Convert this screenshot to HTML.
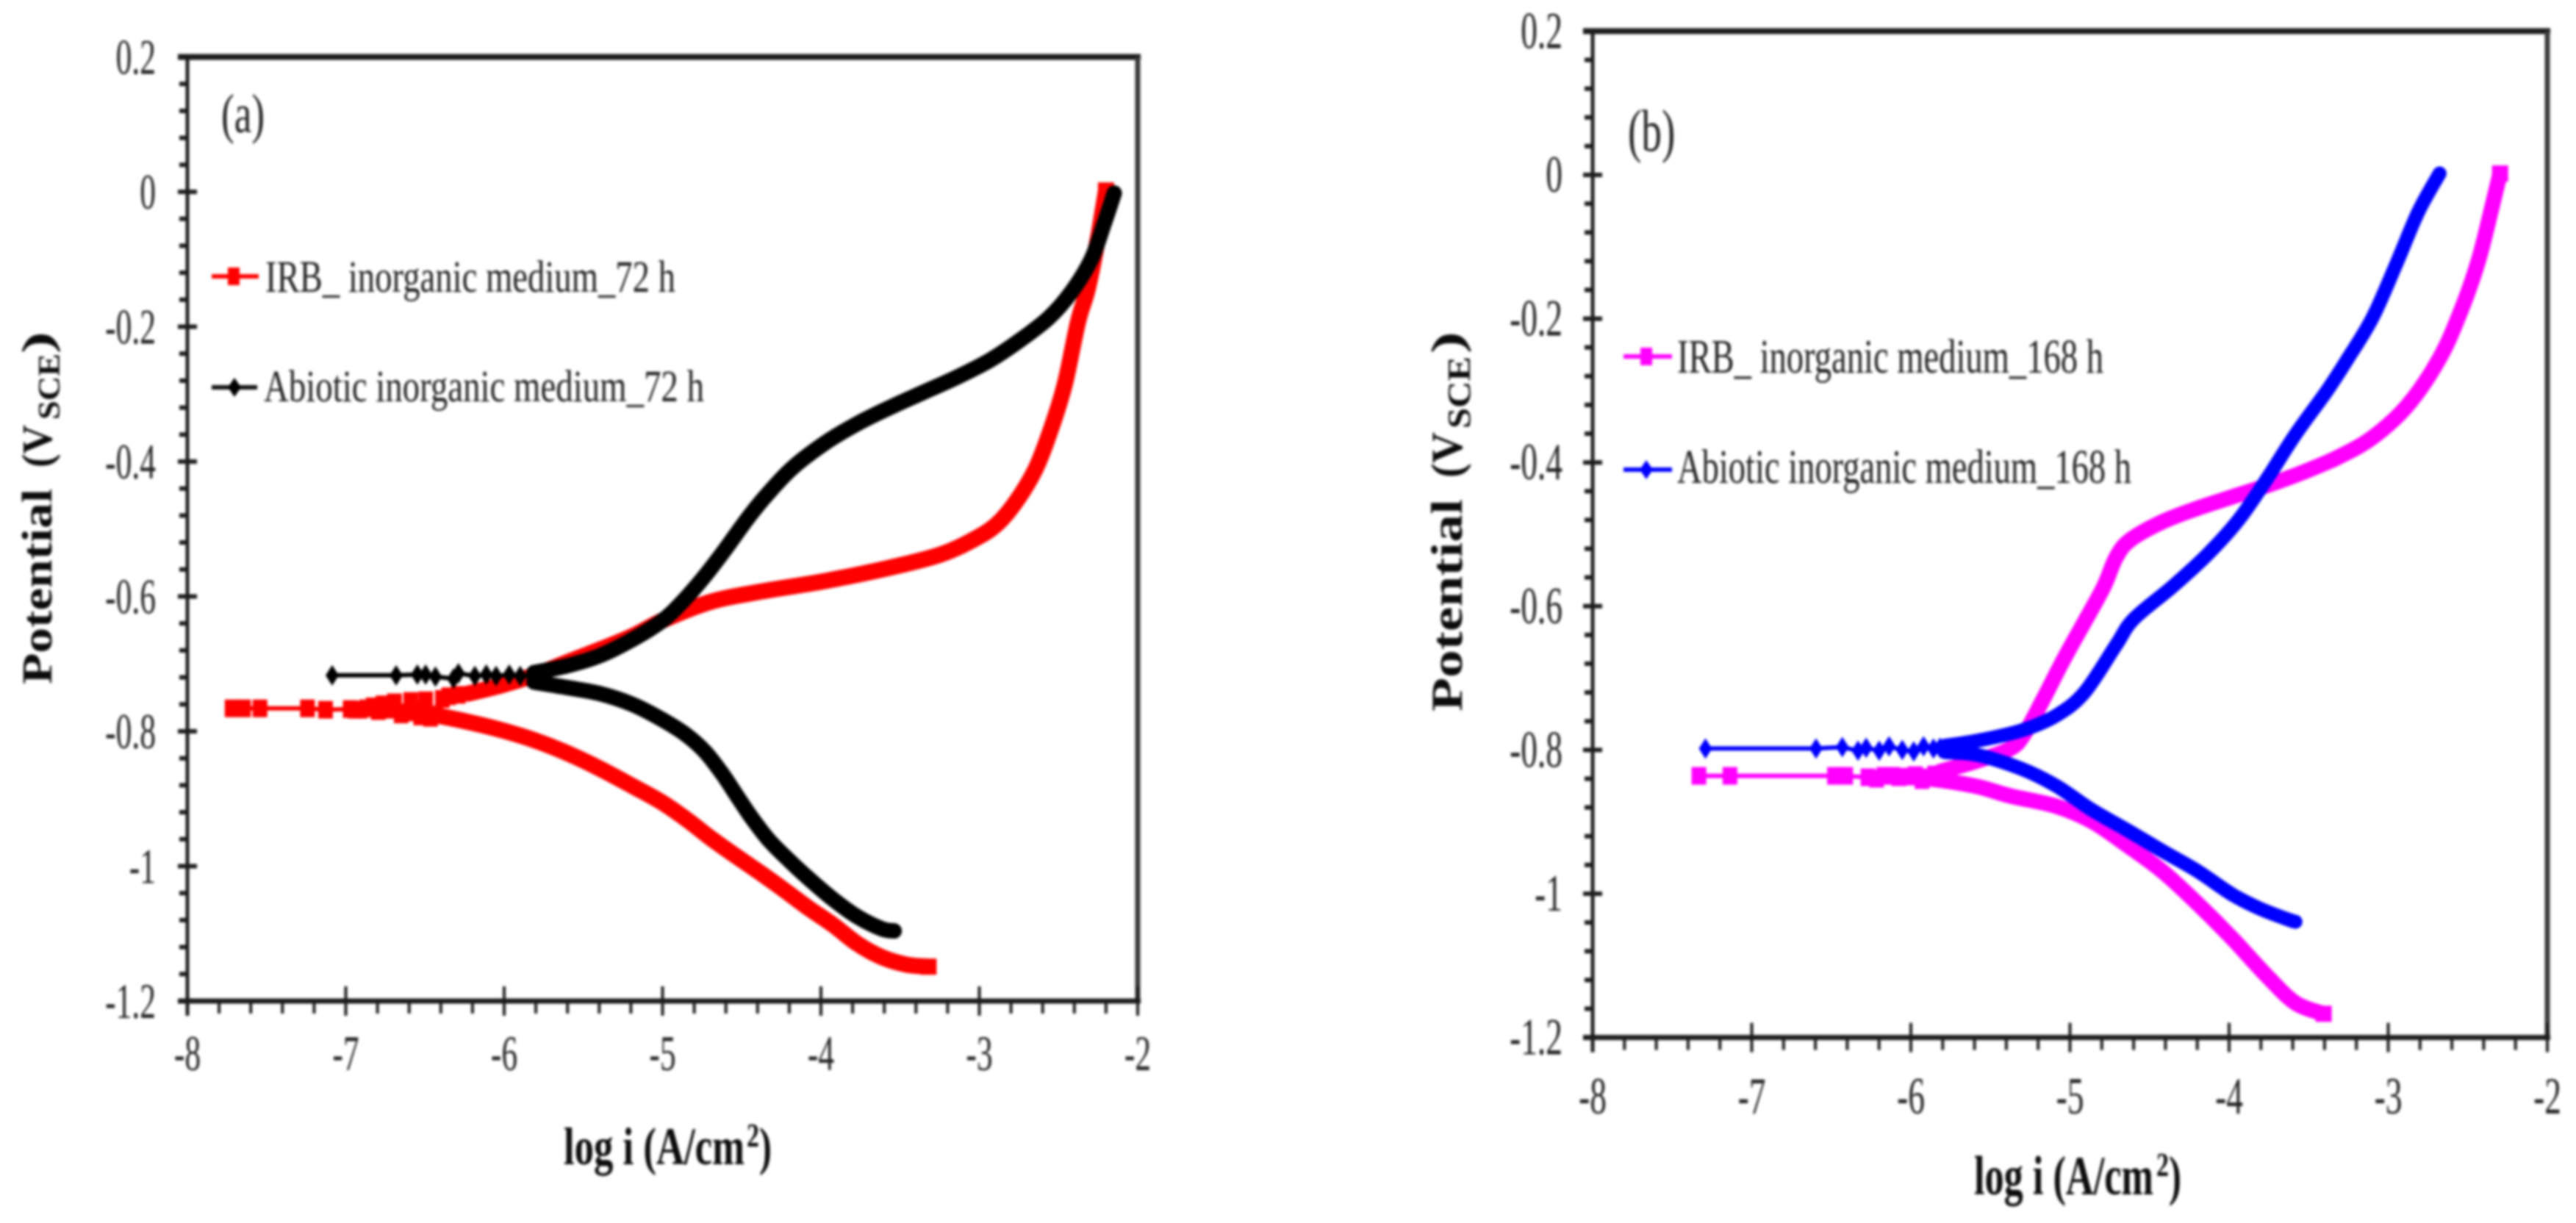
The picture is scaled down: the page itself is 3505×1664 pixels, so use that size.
<!DOCTYPE html>
<html lang="en">
<head>
<meta charset="utf-8">
<title>Polarization curves, panels a and b</title>
<style>
html,body{margin:0;padding:0;background:#fff}
svg{display:block;filter:blur(1.8px)}
text{font-family:"Liberation Serif","Times New Roman",serif;fill:#222}
.t{font-weight:700;fill:#0c0c0c}
</style>
</head>
<body>
<svg id="chart" xmlns="http://www.w3.org/2000/svg" width="3505" height="1664" viewBox="0 0 3505 1664">
  <rect x="0" y="0" width="3505" height="1664" fill="#fff"/>

  <g id="panelA"></g>
  <g id="panelB"></g>

  <!-- Panel a text -->
  <text transform="translate(301,180) scale(.71,1)" font-size="75">(a)</text>
  <text class="t" transform="translate(70,931) rotate(-90)" font-size="58" textLength="266" lengthAdjust="spacingAndGlyphs">Potential</text>
  <text class="t" transform="translate(70,636) rotate(-90)" font-size="58" textLength="58" lengthAdjust="spacingAndGlyphs">(V</text>
  <text class="t" transform="translate(81,571) rotate(-90)" font-size="42" textLength="90" lengthAdjust="spacingAndGlyphs">SCE</text>
  <text class="t" transform="translate(70,481) rotate(-90)" font-size="58" textLength="30" lengthAdjust="spacingAndGlyphs">)</text>
  <text class="t" x="767" y="1584" font-size="72" textLength="246" lengthAdjust="spacingAndGlyphs">log i (A/cm</text>
  <text class="t" x="1016" y="1560" font-size="46" textLength="17" lengthAdjust="spacingAndGlyphs">2</text>
  <text class="t" x="1033" y="1584" font-size="72" textLength="17" lengthAdjust="spacingAndGlyphs">)</text>

  <g>
    <line x1="288" y1="376" x2="352" y2="376" stroke="#ff0000" stroke-width="6"/>
    <rect x="310" y="364" width="16" height="24" fill="#ff0000"/>
    <text x="361" y="397" font-size="61" textLength="558" lengthAdjust="spacingAndGlyphs">IRB_ inorganic medium_72 h</text>
    <line x1="288" y1="527" x2="350" y2="527" stroke="#111" stroke-width="6"/>
    <polygon points="319,514 328,527 319,540 310,527" fill="#000"/>
    <text x="359" y="546" font-size="61" textLength="599" lengthAdjust="spacingAndGlyphs">Abiotic inorganic medium_72 h</text>
  </g>

  <!-- Panel b text -->
  <text transform="translate(2215,205) scale(.69,1)" font-size="80">(b)</text>
  <text class="t" transform="translate(1989,968) rotate(-90)" font-size="60" textLength="289" lengthAdjust="spacingAndGlyphs">Potential</text>
  <text class="t" transform="translate(1989,650) rotate(-90)" font-size="60" textLength="62" lengthAdjust="spacingAndGlyphs">(V</text>
  <text class="t" transform="translate(2000,583) rotate(-90)" font-size="44" textLength="98" lengthAdjust="spacingAndGlyphs">SCE</text>
  <text class="t" transform="translate(1989,481) rotate(-90)" font-size="60" textLength="30" lengthAdjust="spacingAndGlyphs">)</text>
  <text class="t" x="2686" y="1625" font-size="75" textLength="244" lengthAdjust="spacingAndGlyphs">log i (A/cm</text>
  <text class="t" x="2934" y="1600" font-size="46" textLength="17" lengthAdjust="spacingAndGlyphs">2</text>
  <text class="t" x="2951" y="1625" font-size="75" textLength="17" lengthAdjust="spacingAndGlyphs">)</text>

  <g>
    <line x1="2209" y1="485" x2="2275" y2="485" stroke="#ff00ff" stroke-width="6"/>
    <rect x="2232" y="473" width="16" height="24" fill="#ff00ff"/>
    <text x="2282" y="507" font-size="66" textLength="580" lengthAdjust="spacingAndGlyphs">IRB_ inorganic medium_168 h</text>
    <line x1="2209" y1="639" x2="2275" y2="639" stroke="#0000ff" stroke-width="6"/>
    <polygon points="2240,626 2249,639 2240,652 2231,639" fill="#0000ff"/>
    <text x="2282" y="657" font-size="66" textLength="618" lengthAdjust="spacingAndGlyphs">Abiotic inorganic medium_168 h</text>
  </g>
</svg>

<script>
// Axis ticks
const xTickValues = [-8, -7, -6, -5, -4, -3, -2];
const xTickLabels = ['-8', '-7', '-6', '-5', '-4', '-3', '-2'];
const yTickValues = [0.2, 0, -0.2, -0.4, -0.6, -0.8, -1, -1.2];
const yTickLabels = ['0.2', '0', '-0.2', '-0.4', '-0.6', '-0.8', '-1', '-1.2'];

// Panel a, IRB 72 h
const irb72CathodicLogI = [-3.321, -3.460, -3.615, -3.770, -3.924, -4.079, -4.234, -4.388, -4.543, -4.698, -4.852, -5.007, -5.191, -5.398, -5.605, -5.812, -6.020, -6.227, -6.434];
const irb72CathodicV = [-1.149, -1.146, -1.135, -1.115, -1.087, -1.062, -1.035, -1.009, -0.984, -0.958, -0.930, -0.905, -0.881, -0.855, -0.832, -0.813, -0.798, -0.786, -0.776];
const irb72SparseLogI = [-7.718, -7.646, -7.542, -7.242, -7.128, -6.972, -6.940, -6.910, -6.868, -6.827, -6.795, -6.765, -6.730, -6.693, -6.650, -6.620, -6.590, -6.558, -6.527, -6.496, -6.465, -6.434, -6.390, -6.350, -6.290];
const irb72SparseV = [-0.766, -0.766, -0.766, -0.766, -0.768, -0.767, -0.768, -0.768, -0.766, -0.763, -0.770, -0.760, -0.768, -0.757, -0.775, -0.772, -0.755, -0.768, -0.778, -0.754, -0.780, -0.775, -0.752, -0.748, -0.746];
const irb72AnodicLogI = [-6.227, -6.020, -5.812, -5.605, -5.398, -5.191, -4.984, -4.696, -4.385, -3.971, -3.557, -3.246, -3.039, -2.894, -2.770, -2.645, -2.542, -2.459, -2.376, -2.314, -2.252, -2.200];
const irb72AnodicV = [-0.744, -0.732, -0.717, -0.698, -0.679, -0.659, -0.634, -0.608, -0.593, -0.577, -0.557, -0.538, -0.516, -0.494, -0.460, -0.411, -0.348, -0.284, -0.192, -0.143, -0.070, 0.002];

// Panel a, abiotic 72 h
const abiotic72CathodicLogI = [-3.538, -3.615, -3.770, -3.924, -4.079, -4.203, -4.326, -4.435, -4.527, -4.620, -4.729, -4.852, -5.007, -5.191, -5.398, -5.605, -5.812];
const abiotic72CathodicV = [-1.096, -1.093, -1.075, -1.049, -1.018, -0.991, -0.962, -0.929, -0.897, -0.864, -0.831, -0.805, -0.782, -0.760, -0.744, -0.735, -0.727];
const abiotic72SparseLogI = [-7.086, -6.682, -6.548, -6.496, -6.434, -6.320, -6.289, -6.185, -6.113, -6.051, -5.968, -5.899, -5.830];
const abiotic72SparseV = [-0.717, -0.717, -0.716, -0.716, -0.719, -0.722, -0.714, -0.718, -0.716, -0.718, -0.716, -0.718, -0.717];
const abiotic72AnodicLogI = [-5.812, -5.605, -5.398, -5.191, -5.007, -4.883, -4.738, -4.613, -4.468, -4.344, -4.178, -3.971, -3.764, -3.557, -3.350, -3.142, -2.935, -2.749, -2.562, -2.417, -2.293, -2.210, -2.148];
const abiotic72AnodicV = [-0.713, -0.703, -0.688, -0.664, -0.637, -0.610, -0.571, -0.533, -0.486, -0.450, -0.409, -0.372, -0.343, -0.319, -0.297, -0.275, -0.250, -0.221, -0.187, -0.148, -0.100, -0.046, -0.002];

// Panel b, IRB 168 h
const irb168CathodicLogI = [-3.406, -3.583, -3.760, -3.981, -4.202, -4.423, -4.644, -4.865, -5.090, -5.374, -5.580, -5.817, -6.000];
const irb168CathodicV = [-1.167, -1.152, -1.115, -1.062, -1.013, -0.968, -0.932, -0.899, -0.878, -0.864, -0.851, -0.842, -0.838];
const irb168SparseLogI = [-7.332, -7.137, -6.480, -6.410, -6.270, -6.215, -6.170, -6.116, -6.075, -6.034, -5.972, -5.930, -5.889, -5.850, -5.817];
const irb168SparseV = [-0.836, -0.836, -0.836, -0.836, -0.838, -0.840, -0.836, -0.836, -0.838, -0.837, -0.835, -0.842, -0.838, -0.834, -0.836];
const irb168AnodicLogI = [-5.817, -5.580, -5.374, -5.285, -5.174, -5.042, -4.909, -4.788, -4.710, -4.622, -4.423, -4.202, -3.981, -3.760, -3.539, -3.318, -3.097, -2.876, -2.677, -2.545, -2.434, -2.346, -2.297];
const irb168AnodicV = [-0.830, -0.815, -0.798, -0.777, -0.732, -0.675, -0.622, -0.573, -0.532, -0.508, -0.483, -0.464, -0.448, -0.432, -0.414, -0.393, -0.365, -0.320, -0.255, -0.190, -0.120, -0.043, 0.002];

// Panel b, abiotic 168 h
const abiotic168CathodicLogI = [-3.583, -3.627, -3.804, -3.981, -4.202, -4.423, -4.644, -4.865, -5.086, -5.307, -5.580, -5.786];
const abiotic168CathodicV = [-1.039, -1.036, -1.021, -1.001, -0.968, -0.940, -0.911, -0.883, -0.850, -0.826, -0.807, -0.803];
const abiotic168SparseLogI = [-7.291, -6.596, -6.431, -6.332, -6.281, -6.199, -6.137, -6.054, -5.982, -5.920, -5.858, -5.817];
const abiotic168SparseV = [-0.798, -0.798, -0.796, -0.801, -0.797, -0.801, -0.795, -0.800, -0.802, -0.795, -0.798, -0.797];
const abiotic168AnodicLogI = [-5.786, -5.580, -5.307, -5.086, -4.909, -4.710, -4.600, -4.357, -4.136, -3.937, -3.760, -3.583, -3.384, -3.252, -3.097, -2.942, -2.810, -2.677];
const abiotic168AnodicV = [-0.794, -0.787, -0.773, -0.752, -0.720, -0.654, -0.618, -0.573, -0.528, -0.479, -0.422, -0.361, -0.300, -0.255, -0.198, -0.120, -0.051, 0.002];

const NS = 'http://www.w3.org/2000/svg';
const MINOR_DIVISIONS = 5;
const AXIS_COLOR = '#1c1c1c';

function mk(parent, tag, attrs) {
  const node = document.createElementNS(NS, tag);
  for (const key in attrs) node.setAttribute(key, attrs[key]);
  parent.appendChild(node);
  return node;
}

function pointsOf(xs, ys, sx, sy) {
  return xs.map(function (v, i) { return sx(v).toFixed(1) + ',' + sy(ys[i]).toFixed(1); }).join(' ');
}

// Smooth Catmull-Rom path through the read data points
function smoothPath(xs, ys, sx, sy) {
  const p = xs.map(function (v, i) { return [sx(v), sy(ys[i])]; });
  let d = 'M' + p[0][0].toFixed(1) + ' ' + p[0][1].toFixed(1);
  for (let i = 0; i < p.length - 1; i++) {
    const a = p[Math.max(0, i - 1)];
    const b = p[i];
    const c = p[i + 1];
    const e = p[Math.min(p.length - 1, i + 2)];
    d += 'C' + (b[0] + (c[0] - a[0]) / 6).toFixed(1) + ' ' + (b[1] + (c[1] - a[1]) / 6).toFixed(1) +
         ' ' + (c[0] - (e[0] - b[0]) / 6).toFixed(1) + ' ' + (c[1] - (e[1] - b[1]) / 6).toFixed(1) +
         ' ' + c[0].toFixed(1) + ' ' + c[1].toFixed(1);
  }
  return d;
}

function drawAxes(g, geo, sx, sy) {
  const xL = sx(xTickValues[0]);
  const xR = sx(xTickValues[xTickValues.length - 1]);
  const yT = sy(yTickValues[0]);
  const yB = sy(yTickValues[yTickValues.length - 1]);

  const frameTop = mk(g, 'line', {x1: xL - 13, y1: yT, x2: xR + 4, y2: yT, stroke: AXIS_COLOR, 'stroke-width': 8});
  
  
  const frameRight = mk(g, 'line', {x1: xR, y1: yT, x2: xR, y2: yB, stroke: '#3a3a3a', 'stroke-width': 7});
  
  
  const yAxis = mk(g, 'line', {x1: xL, y1: yT, x2: xL, y2: yB + 20, stroke: AXIS_COLOR, 'stroke-width': 5});
  
  
  const xAxis = mk(g, 'line', {x1: xL - 13, y1: yB, x2: xR + 4, y2: yB, stroke: AXIS_COLOR, 'stroke-width': 7});
  
  

  xTickValues.forEach(function (v, i) {
    const major = mk(g, 'line', {x1: sx(v), y1: yB - 20, x2: sx(v), y2: yB + 20, stroke: AXIS_COLOR, 'stroke-width': 4});
    
    
    const label = mk(g, 'text', {
      transform: 'translate(' + sx(v) + ',' + geo.xLabelY + ') scale(.64,1)',
      'font-size': geo.fontSize, 'text-anchor': 'middle'
    });
    
    
    label.textContent = xTickLabels[i];
    if (i < xTickValues.length - 1) {
      const step = (xTickValues[i + 1] - v) / MINOR_DIVISIONS;
      for (let m = 1; m < MINOR_DIVISIONS; m++) {
        const minor = mk(g, 'line', {x1: sx(v + m * step), y1: yB, x2: sx(v + m * step), y2: yB + 17, stroke: AXIS_COLOR, 'stroke-width': 4});
        
        
      }
    }
  });

  yTickValues.forEach(function (v, i) {
    const major = mk(g, 'line', {x1: xL - 13, y1: sy(v), x2: xL + 13, y2: sy(v), stroke: AXIS_COLOR, 'stroke-width': 6});
    
    
    const label = mk(g, 'text', {
      transform: 'translate(' + geo.yLabelX + ',' + (sy(v) + 23) + ') scale(.64,1)',
      'font-size': geo.fontSize, 'text-anchor': 'end'
    });
    
    
    label.textContent = yTickLabels[i];
    if (i < yTickValues.length - 1) {
      const step = (yTickValues[i + 1] - v) / MINOR_DIVISIONS;
      for (let m = 1; m < MINOR_DIVISIONS; m++) {
        const minor = mk(g, 'line', {x1: xL - 11, y1: sy(v + m * step), x2: xL, y2: sy(v + m * step), stroke: AXIS_COLOR, 'stroke-width': 6});
        
        
      }
    }
  });
}

function drawSeries(g, s, sx, sy) {
  const group = mk(g, 'g', {});
  
  

  const joined = s.sparseX.concat([s.anodicX[0]]);
  const joinedY = s.sparseY.concat([s.anodicY[0]]);
  const thin = mk(group, 'polyline', {points: pointsOf(joined, joinedY, sx, sy), fill: 'none', stroke: s.color, 'stroke-width': 6});
  
  

  s.sparseX.forEach(function (v, i) {
    const cx = sx(v);
    const cy = sy(s.sparseY[i]);
    let marker;
    if (s.marker === 'square') {
      marker = mk(group, 'rect', {x: cx - 10, y: cy - 12, width: 20, height: 24, fill: s.color});
    } else {
      marker = mk(group, 'polygon', {points: [cx, cy - 14, cx + 9, cy, cx, cy + 14, cx - 9, cy].join(','), fill: s.color});
    }
    
    
  });

  const cathodic = mk(group, 'path', {
    d: smoothPath(s.cathodicX, s.cathodicY, sx, sy), fill: 'none', stroke: s.color,
    'stroke-width': s.width, 'stroke-linejoin': 'round', 'stroke-linecap': 'round'
  });
  
  

  const anodic = mk(group, 'path', {
    d: smoothPath(s.anodicX, s.anodicY, sx, sy), fill: 'none', stroke: s.color,
    'stroke-width': s.width, 'stroke-linejoin': 'round', 'stroke-linecap': 'round'
  });
  
  

  if (s.marker === 'square') {
    const lastX = s.anodicX[s.anodicX.length - 1];
    const lastY = s.anodicY[s.anodicY.length - 1];
    const endTop = mk(group, 'rect', {x: sx(lastX) - 11, y: sy(lastY) - 11, width: 22, height: 22, fill: s.color});
    
    
    const endBottom = mk(group, 'rect', {x: sx(s.cathodicX[0]) - 11, y: sy(s.cathodicY[0]) - 11, width: 22, height: 22, fill: s.color});
    
    
  }
}

function drawPanel(g, geo, seriesList) {
  const sx = function (v) { return geo.x0 + (v - xTickValues[0]) * geo.kx; };
  const sy = function (v) { return geo.y0 - v * geo.ky; };
  drawAxes(g, geo, sx, sy);
  seriesList.forEach(function (s) { drawSeries(g, s, sx, sy); });
}

drawPanel(document.getElementById('panelA'),
  {x0: 255, kx: 215.5, y0: 261, ky: 917.5, xLabelY: 1456, yLabelX: 212, fontSize: 68},
  [
    {name: 'irb-72h-series', color: '#ff0000', marker: 'square', width: 22,
     cathodicX: irb72CathodicLogI, cathodicY: irb72CathodicV,
     sparseX: irb72SparseLogI, sparseY: irb72SparseV,
     anodicX: irb72AnodicLogI, anodicY: irb72AnodicV},
    {name: 'abiotic-72h-series', color: '#000000', marker: 'diamond', width: 21,
     cathodicX: abiotic72CathodicLogI, cathodicY: abiotic72CathodicV,
     sparseX: abiotic72SparseLogI, sparseY: abiotic72SparseV,
     anodicX: abiotic72AnodicLogI, anodicY: abiotic72AnodicV}
  ]);

drawPanel(document.getElementById('panelB'),
  {x0: 2167, kx: 216.5, y0: 238, ky: 978, xLabelY: 1515, yLabelX: 2126, fontSize: 71},
  [
    {name: 'irb-168h-series', color: '#ff00ff', marker: 'square', width: 21,
     cathodicX: irb168CathodicLogI, cathodicY: irb168CathodicV,
     sparseX: irb168SparseLogI, sparseY: irb168SparseV,
     anodicX: irb168AnodicLogI, anodicY: irb168AnodicV},
    {name: 'abiotic-168h-series', color: '#0000ff', marker: 'diamond', width: 19,
     cathodicX: abiotic168CathodicLogI, cathodicY: abiotic168CathodicV,
     sparseX: abiotic168SparseLogI, sparseY: abiotic168SparseV,
     anodicX: abiotic168AnodicLogI, anodicY: abiotic168AnodicV}
  ]);
</script>
</body>
</html>
